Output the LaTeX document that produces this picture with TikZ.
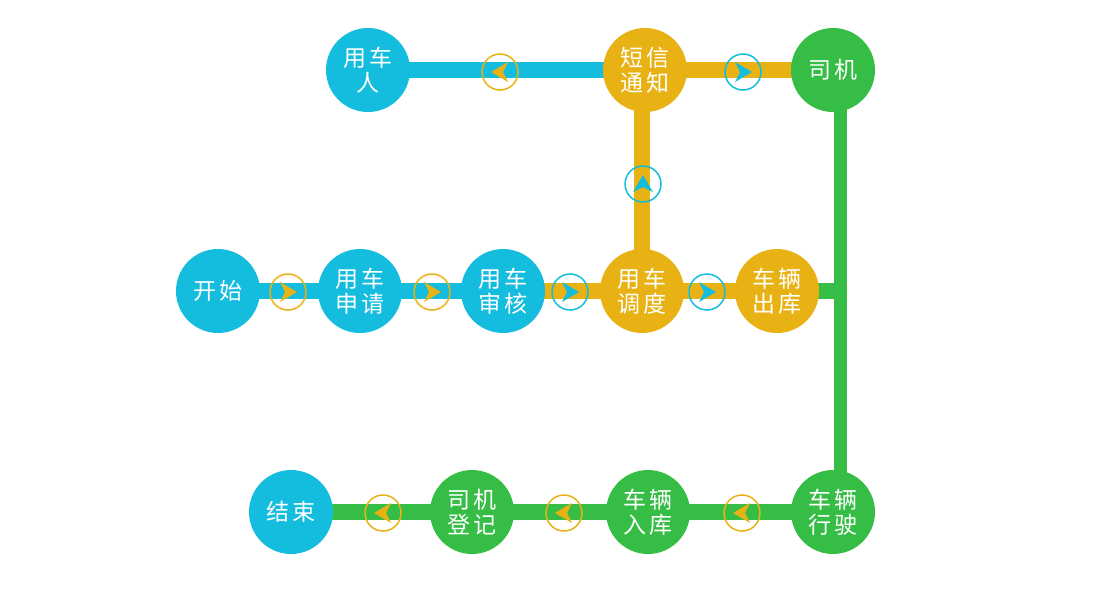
\documentclass[tikz,border=0pt]{standalone}
\usepackage{fontspec}
\newfontfamily\cjk{Noto Sans CJK SC}
\definecolor{cb}{HTML}{14BCDD}
\definecolor{co}{HTML}{E8B214}
\definecolor{cg}{HTML}{35BD45}
\tikzset{
 stn/.style={circle,minimum size=84pt,inner sep=0pt,text=white,font=\cjk\fontsize{23}{25}\selectfont,align=center},
 ln/.style={line width=16pt},
}
\newcommand\mk[4]{% pos, color, angle, name
 \node[circle,draw=#2,line width=1.5pt,minimum size=36pt,inner sep=0pt] (#4) at (#1) {};
 \fill[#2,rotate around={#3:(#1)}] ($(#1)+(9,0)$) -- ($(#1)+(-8,-10)$) -- ($(#1)+(-3,0)$) -- ($(#1)+(-8,10)$) -- cycle;
}
\usetikzlibrary{calc}
\begin{document}
\begin{tikzpicture}[x=1pt,y=-1pt]
\useasboundingbox (0,0) rectangle (1100,600);
\coordinate (j) at (840,291);
% lines
\draw[ln,cb] (368,70) -- (645,70);
\draw[ln,co] (645,70) -- (833,70);
\draw[ln,co] (642,70) -- (642,291);
\draw[line width=13pt,cg] (840,70) -- (840,512);
\draw[ln,cb] (218,291) -- (503,291);
\draw[ln,co] (503,291) -- (777,291);
\draw[ln,cg] (777,291) -- (j);
\draw[ln,cg] (291,512) -- (833,512);
% stations
\node[stn,fill=cb] (user) at (368,70) {用\,车\\人};
\node[stn,fill=co] (sms) at (645,70) {短\,信\\通\,知};
\node[stn,fill=cg] (drv) at (833,70) {司\,机};
\node[stn,fill=cb] (start) at (218,291) {开\,始};
\node[stn,fill=cb] (apply) at (360,291) {用\,车\\申\,请};
\node[stn,fill=cb] (audit) at (503,291) {用\,车\\审\,核};
\node[stn,fill=co] (disp) at (642,291) {用\,车\\调\,度};
\node[stn,fill=co] (out) at (777,291) {车\,辆\\出\,库};
\node[stn,fill=cb] (end) at (291,512) {结\,束};
\node[stn,fill=cg] (reg) at (472,512) {司\,机\\登\,记};
\node[stn,fill=cg] (in) at (648,512) {车\,辆\\入\,库};
\node[stn,fill=cg] (run) at (833,512) {车\,辆\\行\,驶};
% markers
\mk{500,72}{co}{180}{m1}
\mk{743,72}{cb}{0}{m2}
\mk{643,184}{cb}{90}{m3}
\mk{288,292}{co}{0}{m4}
\mk{432,292}{co}{0}{m5}
\mk{570,292}{cb}{0}{m6}
\mk{707,292}{cb}{0}{m7}
\mk{383,513}{co}{180}{m8}
\mk{564,513}{co}{180}{m9}
\mk{742,513}{co}{180}{m10}
\end{tikzpicture}
\end{document}
